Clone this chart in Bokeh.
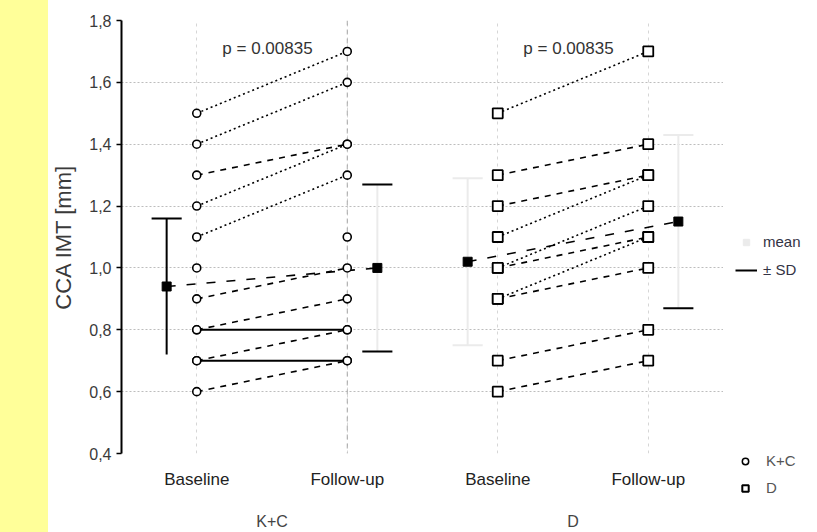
from bokeh.plotting import figure
from bokeh.models import (ColumnDataSource, FixedTicker, CustomJSTickFormatter, LinearAxis,
                          Range1d, Label, Legend, LegendItem, Span, Div)
from bokeh.layouts import row
from bokeh.embed import file_html
from bokeh.resources import INLINE

# ---------------- data ----------------
positions = [1, 2, 3, 4]
time_labels = ["Baseline", "Follow-up", "Baseline", "Follow-up"]
group_labels = ["K+C", "D"]
y_ticks = [0.4, 0.6, 0.8, 1.0, 1.2, 1.4, 1.6, 1.8]
p_values = ["p = 0.00835", "p = 0.00835"]

kc_baseline = [1.5, 1.4, 1.3, 1.2, 1.1, 1.0, 0.9, 0.8, 0.8, 0.7, 0.7, 0.6]
kc_followup = [1.7, 1.6, 1.4, 1.4, 1.3, 1.1, 1.0, 0.9, 0.8, 0.8, 0.7, 0.7]
kc_line = ["dotted", "dotted", "dashed", "dotted", "dotted", "none",
           "dashed", "dashed", "solid", "dashed", "solid", "dashed"]

d_baseline = [1.5, 1.3, 1.2, 1.1, 1.0, 1.0, 0.9, 0.9, 0.7, 0.6]
d_followup = [1.7, 1.4, 1.3, 1.3, 1.2, 1.1, 1.1, 1.0, 0.8, 0.7]
d_line = ["dotted", "dashed", "dashed", "dotted", "dotted", "dashed",
          "dotted", "dashed", "dashed", "dashed"]

kc_mean = [0.94, 1.00]
kc_sd = [0.22, 0.27]
d_mean = [1.02, 1.15]
d_sd = [0.27, 0.28]

# ---------------- styling ----------------
FONT = "Liberation Sans"
FAINT = "#ebebeb"
MEAN_OFFSET = 0.2
CAP = 0.1
H = 532
# visibility of SD parts as seen in the picture: K+C base, K+C follow, D base, D follow
sd_whisker_color = ["black", FAINT, FAINT, FAINT]
sd_upper_color = ["black", "black", FAINT, FAINT]
sd_lower_color = [None, "black", FAINT, "black"]

p = figure(width=675, height=H, x_range=Range1d(0.5, 4.5), y_range=Range1d(0.4, 1.8),
           output_backend="svg", toolbar_location=None,
           min_border_left=72, min_border_right=0, min_border_top=20, min_border_bottom=79,
           outline_line_color=None, background_fill_color="white", border_fill_color="white")

# grids
p.xgrid.ticker = FixedTicker(ticks=positions)
p.xgrid.grid_line_color = "#d6d6d6"
p.xgrid.grid_line_dash = "3 4"
p.ygrid.ticker = FixedTicker(ticks=y_ticks[1:-1])
p.ygrid.grid_line_color = "#bdbdbd"
p.ygrid.grid_line_dash = "2 2"
p.add_layout(Span(location=positions[1], dimension="height", line_color="#a8a8a8",
                  line_dash="5 4", line_width=1, level="underlay"))

# y axis
yax = p.yaxis[0]
yax.ticker = FixedTicker(ticks=y_ticks)
yax.formatter = CustomJSTickFormatter(code="return tick.toFixed(1).replace('.', ',');")
yax.axis_line_width = 2
yax.axis_line_color = "black"
yax.major_tick_out = 5
yax.major_tick_in = 0
yax.major_tick_line_width = 1.5
yax.minor_tick_line_color = None
yax.major_label_text_font = FONT
yax.major_label_text_font_size = "16px"
yax.major_label_text_color = "#3a3a3a"
yax.major_label_standoff = 5
yax.axis_label = "CCA IMT [mm]"
yax.axis_label_text_font = FONT
yax.axis_label_text_font_size = "22px"
yax.axis_label_text_font_style = "normal"
yax.axis_label_text_color = "#3a3a3a"
yax.axis_label_standoff = 10

# x axis with time labels
xax = p.xaxis[0]
xax.ticker = FixedTicker(ticks=positions)
xax.formatter = CustomJSTickFormatter(args=dict(pos=positions, names=time_labels), code="""
for (let i = 0; i < pos.length; i++) { if (Math.abs(tick - pos[i]) < 1e-6) return names[i]; }
return '';""")
xax.axis_line_color = None
xax.major_tick_line_color = None
xax.minor_tick_line_color = None
xax.major_tick_out = 0
xax.major_tick_in = 0
xax.major_label_standoff = 16
xax.major_label_text_font = FONT
xax.major_label_text_font_size = "17px"
xax.major_label_text_color = "#222222"

# second x axis with group labels
centers = [(positions[0] + positions[1]) / 2, (positions[2] + positions[3]) / 2]
gax = LinearAxis(ticker=FixedTicker(ticks=centers),
                 formatter=CustomJSTickFormatter(args=dict(pos=centers, names=group_labels), code="""
for (let i = 0; i < pos.length; i++) { if (Math.abs(tick - pos[i]) < 1e-6) return names[i]; }
return '';"""))
gax.axis_line_color = None
gax.major_tick_line_color = None
gax.minor_tick_line_color = None
gax.major_tick_out = 0
gax.major_tick_in = 0
gax.major_label_standoff = 21
gax.major_label_text_font = FONT
gax.major_label_text_font_size = "16px"
gax.major_label_text_color = "#444444"
p.add_layout(gax, "below")

# SD whiskers and caps
means = kc_mean + d_mean
sds = kc_sd + d_sd
mx = [positions[0] - MEAN_OFFSET, positions[1] + MEAN_OFFSET,
      positions[2] - MEAN_OFFSET, positions[3] + MEAN_OFFSET]
for i in range(4):
    lo, hi = means[i] - sds[i], means[i] + sds[i]
    p.segment(x0=[mx[i]], y0=[lo], x1=[mx[i]], y1=[hi], line_color=sd_whisker_color[i], line_width=2)
    if sd_upper_color[i]:
        p.segment(x0=[mx[i] - CAP], y0=[hi], x1=[mx[i] + CAP], y1=[hi],
                  line_color=sd_upper_color[i], line_width=2)
    if sd_lower_color[i]:
        p.segment(x0=[mx[i] - CAP], y0=[lo], x1=[mx[i] + CAP], y1=[lo],
                  line_color=sd_lower_color[i], line_width=2)

# mean connecting lines
p.segment(x0=[mx[0], mx[2]], y0=[kc_mean[0], d_mean[0]], x1=[mx[1], mx[3]], y1=[kc_mean[1], d_mean[1]],
          line_color="black", line_width=1.6, line_dash="9 11")

# paired lines
DASH = {"dotted": "2 3", "dashed": "6 6", "solid": "solid"}
def pair_lines(base, follow, kinds, x0, x1):
    for kind, dash in DASH.items():
        idx = [i for i, k in enumerate(kinds) if k == kind]
        if not idx:
            continue
        src = ColumnDataSource(dict(x0=[x0] * len(idx), y0=[base[i] for i in idx],
                                    x1=[x1] * len(idx), y1=[follow[i] for i in idx]))
        p.segment("x0", "y0", "x1", "y1", source=src, line_color="black",
                  line_width=2 if kind == "solid" else 1.6, line_dash=dash)

pair_lines(kc_baseline, kc_followup, kc_line, positions[0], positions[1])
pair_lines(d_baseline, d_followup, d_line, positions[2], positions[3])

# points
kc_src = ColumnDataSource(dict(x=[positions[0]] * len(kc_baseline) + [positions[1]] * len(kc_followup),
                               y=kc_baseline + kc_followup))
d_src = ColumnDataSource(dict(x=[positions[2]] * len(d_baseline) + [positions[3]] * len(d_followup),
                              y=d_baseline + d_followup))
p.scatter("x", "y", source=kc_src, marker="circle", size=8, fill_color="white",
          line_color="black", line_width=1.6)
p.scatter("x", "y", source=d_src, marker="square", size=10, fill_color="white",
          line_color="black", line_width=1.8)

# mean markers
p.scatter(x=mx, y=means, marker="square", size=9, fill_color="black", line_color="black")

# p-value labels
for c, txt in zip(centers, p_values):
    p.add_layout(Label(x=c - 0.03, y=1.71, text=txt, text_align="center", text_baseline="middle",
                       text_font=FONT, text_font_size="17px", text_color="#333333"))

# ---------------- legend panel ----------------
q = figure(width=94, height=H, x_range=Range1d(0, 1), y_range=Range1d(0, 1),
           output_backend="svg", toolbar_location=None, min_border=0, frame_align=False,
           outline_line_color=None, x_axis_location=None, y_axis_location=None,
           background_fill_color="white", border_fill_color="white")
q.grid.visible = False
# legend swatches only: their single source point lies outside the visible range
swatch = ColumnDataSource(dict(x=[5], y=[5]))
r_mean_dummy = q.scatter("x", "y", source=swatch, marker="square", size=6,
                         fill_color=FAINT, line_color=FAINT)
r_sd_dummy = q.line("x", "y", source=swatch, line_color="black", line_width=2)
r_kc_dummy = q.scatter("x", "y", source=swatch, marker="circle", fill_color="white",
                       line_color="black", line_width=1.5)
r_d_dummy = q.scatter("x", "y", source=swatch, marker="square", fill_color="white",
                      line_color="black", line_width=2)
leg1 = Legend(items=[LegendItem(label="mean", renderers=[r_mean_dummy]),
                     LegendItem(label="± SD", renderers=[r_sd_dummy])],
              location=(12, 254), padding=0, margin=0, spacing=11,
              glyph_width=22, glyph_height=16, label_height=16, label_standoff=6,
              label_text_font=FONT, label_text_font_size="15px", label_text_color="#333344",
              border_line_color=None, background_fill_alpha=0)
leg2 = Legend(items=[LegendItem(label="K+C", renderers=[r_kc_dummy]),
                     LegendItem(label="D", renderers=[r_d_dummy])],
              location=(11, 36), padding=0, margin=0, spacing=10,
              glyph_width=22, glyph_height=16, label_height=16, label_standoff=10,
              label_text_font=FONT, label_text_font_size="15px", label_text_color="#555555",
              border_line_color=None, background_fill_alpha=0)
q.add_layout(leg1, "center")
q.add_layout(leg2, "center")

band = Div(text="", width=48, height=H, margin=0, styles={"background-color": "#ffff99"})
layout = row(band, p, q, spacing=0)

open("out.html", "w").write(file_html(layout, INLINE))
